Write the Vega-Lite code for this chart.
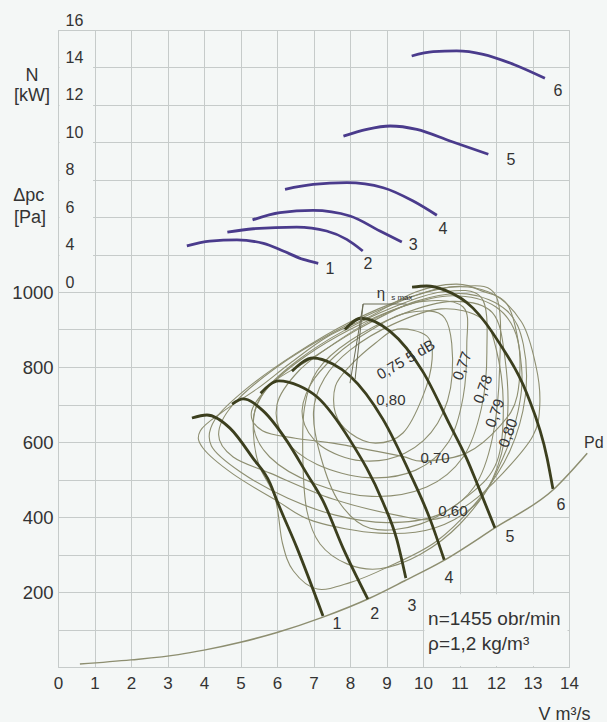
{
  "$schema": "https://vega.github.io/schema/vega-lite/v6.json",
  "background": "#f4f7f6",
  "padding": {"left": 11, "top": 11, "right": 4, "bottom": 4},
  "spacing": 0,
  "bounds": "flush",
  "config": {
    "font": "Liberation Sans",
    "view": {"stroke": "#c6cbca", "fill": "#f4f7f6"},
    "axis": {"gridColor": "#c6cbca", "gridWidth": 1, "gridOpacity": 1, "domain": false, "ticks": false, "tickSize": 0, "labelColor": "#333333", "labelFont": "Liberation Sans", "titleColor": "#333333", "titleFont": "Liberation Sans"},
    "text": {"font": "Liberation Sans", "fill": "#333333"}
  },
  "datasets": {
    "power": [
      {"c": 1, "V": 3.53, "N": 4.46}, {"c": 1, "V": 4.16, "N": 4.72}, {"c": 1, "V": 4.9, "N": 4.78}, {"c": 1, "V": 5.63, "N": 4.6}, {"c": 1, "V": 6.17, "N": 4.19}, {"c": 1, "V": 6.72, "N": 3.74}, {"c": 1, "V": 7.13, "N": 3.53},
      {"c": 2, "V": 4.64, "N": 5.2}, {"c": 2, "V": 5.35, "N": 5.38}, {"c": 2, "V": 6.54, "N": 5.47}, {"c": 2, "V": 7.36, "N": 5.26}, {"c": 2, "V": 7.91, "N": 4.81}, {"c": 2, "V": 8.35, "N": 4.19},
      {"c": 3, "V": 5.33, "N": 5.85}, {"c": 3, "V": 6.08, "N": 6.24}, {"c": 3, "V": 6.99, "N": 6.36}, {"c": 3, "V": 8.0, "N": 6.06}, {"c": 3, "V": 8.82, "N": 5.26}, {"c": 3, "V": 9.42, "N": 4.67},
      {"c": 4, "V": 6.22, "N": 7.49}, {"c": 4, "V": 6.99, "N": 7.75}, {"c": 4, "V": 7.91, "N": 7.84}, {"c": 4, "V": 8.91, "N": 7.57}, {"c": 4, "V": 9.73, "N": 6.86}, {"c": 4, "V": 10.38, "N": 6.1},
      {"c": 5, "V": 7.82, "N": 10.33}, {"c": 5, "V": 8.46, "N": 10.69}, {"c": 5, "V": 9.1, "N": 10.87}, {"c": 5, "V": 9.83, "N": 10.69}, {"c": 5, "V": 10.74, "N": 10.07}, {"c": 5, "V": 11.79, "N": 9.36},
      {"c": 6, "V": 9.69, "N": 14.61}, {"c": 6, "V": 10.28, "N": 14.84}, {"c": 6, "V": 10.92, "N": 14.88}, {"c": 6, "V": 11.65, "N": 14.7}, {"c": 6, "V": 12.47, "N": 14.17}, {"c": 6, "V": 13.34, "N": 13.42}
    ],
    "powerLab": [
      {"t": "1", "V": 7.45, "N": 3.23}, {"t": "2", "V": 8.49, "N": 3.49}, {"t": "3", "V": 9.73, "N": 4.51},
      {"t": "4", "V": 10.55, "N": 5.36}, {"t": "5", "V": 12.41, "N": 9.05}, {"t": "6", "V": 13.7, "N": 12.74}
    ],
    "upperTitles": [
      {"t": "N", "V": -0.71, "N": 13.55}, {"t": "[kW]", "V": -0.71, "N": 12.47},
      {"t": "Δpc", "V": -0.8, "N": 7.13}, {"t": "[Pa]", "V": -0.77, "N": 5.95}
    ],
    "pres": [
      {"c": 1, "V": 3.67, "P": 664}, {"c": 1, "V": 4.08, "P": 672}, {"c": 1, "V": 4.71, "P": 637}, {"c": 1, "V": 5.34, "P": 557}, {"c": 1, "V": 5.81, "P": 490}, {"c": 1, "V": 6.0, "P": 443}, {"c": 1, "V": 6.55, "P": 317}, {"c": 1, "V": 7.26, "P": 136},
      {"c": 2, "V": 4.77, "P": 701}, {"c": 2, "V": 5.07, "P": 715}, {"c": 2, "V": 5.62, "P": 683}, {"c": 2, "V": 6.27, "P": 603}, {"c": 2, "V": 6.82, "P": 515}, {"c": 2, "V": 7.26, "P": 443}, {"c": 2, "V": 7.81, "P": 317}, {"c": 2, "V": 8.49, "P": 181},
      {"c": 3, "V": 5.55, "P": 730}, {"c": 3, "V": 6.05, "P": 763}, {"c": 3, "V": 6.6, "P": 750}, {"c": 3, "V": 7.1, "P": 720}, {"c": 3, "V": 8.0, "P": 605}, {"c": 3, "V": 8.9, "P": 440}, {"c": 3, "V": 9.28, "P": 341}, {"c": 3, "V": 9.53, "P": 237},
      {"c": 4, "V": 6.41, "P": 789}, {"c": 4, "V": 6.99, "P": 824}, {"c": 4, "V": 7.53, "P": 808}, {"c": 4, "V": 8.0, "P": 776}, {"c": 4, "V": 8.9, "P": 661}, {"c": 4, "V": 9.64, "P": 517}, {"c": 4, "V": 10.19, "P": 395}, {"c": 4, "V": 10.58, "P": 286},
      {"c": 5, "V": 7.86, "P": 900}, {"c": 5, "V": 8.3, "P": 930}, {"c": 5, "V": 9.1, "P": 895}, {"c": 5, "V": 10.0, "P": 787}, {"c": 5, "V": 10.74, "P": 645}, {"c": 5, "V": 11.2, "P": 555}, {"c": 5, "V": 11.5, "P": 485}, {"c": 5, "V": 11.97, "P": 371},
      {"c": 6, "V": 9.7, "P": 1013}, {"c": 6, "V": 10.1, "P": 1016}, {"c": 6, "V": 10.6, "P": 1005}, {"c": 6, "V": 11.37, "P": 957}, {"c": 6, "V": 12.11, "P": 861}, {"c": 6, "V": 12.85, "P": 728}, {"c": 6, "V": 13.4, "P": 557}, {"c": 6, "V": 13.56, "P": 475}
    ],
    "presLab": [
      {"t": "1", "V": 7.64, "P": 115}, {"t": "2", "V": 8.68, "P": 141}, {"t": "3", "V": 9.7, "P": 163},
      {"t": "4", "V": 10.71, "P": 237}, {"t": "5", "V": 12.38, "P": 347}, {"t": "6", "V": 13.78, "P": 432}, {"t": "Pd", "V": 14.68, "P": 597}
    ],
    "pd": [
      {"V": 0.6, "P": 8}, {"V": 2.0, "P": 19}, {"V": 3.3, "P": 33}, {"V": 4.0, "P": 45}, {"V": 5.0, "P": 66}, {"V": 6.0, "P": 92}, {"V": 7.26, "P": 133},
      {"V": 8.55, "P": 184}, {"V": 9.5, "P": 230}, {"V": 10.55, "P": 283}, {"V": 11.97, "P": 371}, {"V": 13.56, "P": 472}, {"V": 14.5, "P": 570}
    ],
    "eta": [
      {"l": 1, "i": 0, "V": 10.1, "P": 883}, {"l": 1, "i": 1, "V": 9.3, "P": 901}, {"l": 1, "i": 2, "V": 8.7, "P": 864}, {"l": 1, "i": 3, "V": 8.0, "P": 803}, {"l": 1, "i": 4, "V": 7.6, "P": 749}, {"l": 1, "i": 5, "V": 7.6, "P": 677}, {"l": 1, "i": 6, "V": 8.0, "P": 624}, {"l": 1, "i": 7, "V": 8.7, "P": 597}, {"l": 1, "i": 8, "V": 9.45, "P": 624}, {"l": 1, "i": 9, "V": 10.0, "P": 723}, {"l": 1, "i": 10, "V": 10.25, "P": 821},
      {"l": 2, "i": 0, "V": 10.6, "P": 930}, {"l": 2, "i": 1, "V": 9.6, "P": 945}, {"l": 2, "i": 2, "V": 8.6, "P": 900}, {"l": 2, "i": 3, "V": 7.6, "P": 830}, {"l": 2, "i": 4, "V": 6.9, "P": 750}, {"l": 2, "i": 5, "V": 6.7, "P": 665}, {"l": 2, "i": 6, "V": 7.2, "P": 590}, {"l": 2, "i": 7, "V": 8.3, "P": 550}, {"l": 2, "i": 8, "V": 9.5, "P": 570}, {"l": 2, "i": 9, "V": 10.4, "P": 650}, {"l": 2, "i": 10, "V": 10.8, "P": 780},
      {"l": 3, "i": 0, "V": 11.1, "P": 960}, {"l": 3, "i": 1, "V": 10.0, "P": 975}, {"l": 3, "i": 2, "V": 8.8, "P": 935}, {"l": 3, "i": 3, "V": 7.6, "P": 865}, {"l": 3, "i": 4, "V": 6.6, "P": 790}, {"l": 3, "i": 5, "V": 6.0, "P": 700}, {"l": 3, "i": 6, "V": 6.2, "P": 610}, {"l": 3, "i": 7, "V": 7.1, "P": 540}, {"l": 3, "i": 8, "V": 8.5, "P": 505}, {"l": 3, "i": 9, "V": 9.8, "P": 525}, {"l": 3, "i": 10, "V": 10.7, "P": 600}, {"l": 3, "i": 11, "V": 11.1, "P": 720}, {"l": 3, "i": 12, "V": 11.2, "P": 860},
      {"l": 4, "i": 0, "V": 11.6, "P": 985}, {"l": 4, "i": 1, "V": 10.5, "P": 1000}, {"l": 4, "i": 2, "V": 9.2, "P": 960}, {"l": 4, "i": 3, "V": 7.8, "P": 895}, {"l": 4, "i": 4, "V": 6.6, "P": 820}, {"l": 4, "i": 5, "V": 5.7, "P": 740}, {"l": 4, "i": 6, "V": 5.35, "P": 650}, {"l": 4, "i": 7, "V": 5.8, "P": 560}, {"l": 4, "i": 8, "V": 7.0, "P": 490}, {"l": 4, "i": 9, "V": 8.6, "P": 455}, {"l": 4, "i": 10, "V": 10.1, "P": 480}, {"l": 4, "i": 11, "V": 11.1, "P": 560}, {"l": 4, "i": 12, "V": 11.6, "P": 690}, {"l": 4, "i": 13, "V": 11.75, "P": 840},
      {"l": 5, "i": 0, "V": 12.0, "P": 990}, {"l": 5, "i": 1, "V": 11.0, "P": 1015}, {"l": 5, "i": 2, "V": 9.6, "P": 985}, {"l": 5, "i": 3, "V": 8.0, "P": 920}, {"l": 5, "i": 4, "V": 6.5, "P": 835}, {"l": 5, "i": 5, "V": 5.2, "P": 745}, {"l": 5, "i": 6, "V": 4.3, "P": 660}, {"l": 5, "i": 7, "V": 4.2, "P": 590}, {"l": 5, "i": 8, "V": 5.0, "P": 520}, {"l": 5, "i": 9, "V": 6.3, "P": 450}, {"l": 5, "i": 10, "V": 7.6, "P": 405}, {"l": 5, "i": 11, "V": 9.0, "P": 385}, {"l": 5, "i": 12, "V": 10.4, "P": 405}, {"l": 5, "i": 13, "V": 11.4, "P": 480}, {"l": 5, "i": 14, "V": 11.9, "P": 610}, {"l": 5, "i": 15, "V": 12.1, "P": 800},
      {"l": 6, "i": 0, "V": 12.35, "P": 960}, {"l": 6, "i": 1, "V": 11.6, "P": 1003}, {"l": 6, "i": 2, "V": 10.9, "P": 1021}, {"l": 6, "i": 3, "V": 9.8, "P": 1000}, {"l": 6, "i": 4, "V": 8.55, "P": 935}, {"l": 6, "i": 5, "V": 7.37, "P": 880}, {"l": 6, "i": 6, "V": 6.36, "P": 810}, {"l": 6, "i": 7, "V": 5.5, "P": 745}, {"l": 6, "i": 8, "V": 4.5, "P": 680}, {"l": 6, "i": 9, "V": 3.9, "P": 630}, {"l": 6, "i": 10, "V": 3.97, "P": 584}, {"l": 6, "i": 11, "V": 4.79, "P": 515}, {"l": 6, "i": 12, "V": 6.0, "P": 443}, {"l": 6, "i": 13, "V": 7.0, "P": 389}, {"l": 6, "i": 14, "V": 8.8, "P": 357}, {"l": 6, "i": 15, "V": 10.3, "P": 370}, {"l": 6, "i": 16, "V": 11.5, "P": 440}, {"l": 6, "i": 17, "V": 12.2, "P": 560}, {"l": 6, "i": 18, "V": 12.6, "P": 680}, {"l": 6, "i": 19, "V": 12.7, "P": 800},
      {"l": 7, "i": 0, "V": 12.6, "P": 870}, {"l": 7, "i": 1, "V": 12.0, "P": 960}, {"l": 7, "i": 2, "V": 10.8, "P": 990}, {"l": 7, "i": 3, "V": 9.4, "P": 960}, {"l": 7, "i": 4, "V": 8.0, "P": 900}, {"l": 7, "i": 5, "V": 6.8, "P": 830}, {"l": 7, "i": 6, "V": 5.8, "P": 750}, {"l": 7, "i": 7, "V": 5.3, "P": 680}, {"l": 7, "i": 8, "V": 5.6, "P": 630}, {"l": 7, "i": 9, "V": 6.5, "P": 610}, {"l": 7, "i": 10, "V": 7.53, "P": 597}, {"l": 7, "i": 11, "V": 9.37, "P": 563}, {"l": 7, "i": 12, "V": 10.0, "P": 549}, {"l": 7, "i": 13, "V": 11.2, "P": 571}, {"l": 7, "i": 14, "V": 12.11, "P": 643}, {"l": 7, "i": 15, "V": 12.58, "P": 723},
      {"l": 8, "i": 0, "V": 13.1, "P": 800}, {"l": 8, "i": 1, "V": 12.7, "P": 920}, {"l": 8, "i": 2, "V": 11.8, "P": 1000}, {"l": 8, "i": 3, "V": 10.5, "P": 1010}, {"l": 8, "i": 4, "V": 9.0, "P": 960}, {"l": 8, "i": 5, "V": 7.5, "P": 890}, {"l": 8, "i": 6, "V": 6.0, "P": 800}, {"l": 8, "i": 7, "V": 4.8, "P": 700}, {"l": 8, "i": 8, "V": 4.4, "P": 620}, {"l": 8, "i": 9, "V": 4.8, "P": 560}, {"l": 8, "i": 10, "V": 5.81, "P": 517}, {"l": 8, "i": 11, "V": 7.53, "P": 448}, {"l": 8, "i": 12, "V": 9.37, "P": 403}, {"l": 8, "i": 13, "V": 10.38, "P": 395}, {"l": 8, "i": 14, "V": 11.29, "P": 437}, {"l": 8, "i": 15, "V": 12.19, "P": 517}, {"l": 8, "i": 16, "V": 13.01, "P": 616}, {"l": 8, "i": 17, "V": 13.2, "P": 700},
      {"l": 9, "i": 0, "V": 12.3, "P": 950}, {"l": 9, "i": 1, "V": 11.2, "P": 995}, {"l": 9, "i": 2, "V": 9.8, "P": 975}, {"l": 9, "i": 3, "V": 8.3, "P": 905}, {"l": 9, "i": 4, "V": 6.9, "P": 820}, {"l": 9, "i": 5, "V": 5.9, "P": 760}, {"l": 9, "i": 6, "V": 5.45, "P": 700}, {"l": 9, "i": 7, "V": 5.35, "P": 630}, {"l": 9, "i": 8, "V": 5.5, "P": 540}, {"l": 9, "i": 9, "V": 5.95, "P": 450}, {"l": 9, "i": 10, "V": 6.15, "P": 330}, {"l": 9, "i": 11, "V": 6.45, "P": 256}, {"l": 9, "i": 12, "V": 7.1, "P": 208}, {"l": 9, "i": 13, "V": 8.0, "P": 225}, {"l": 9, "i": 14, "V": 9.0, "P": 265}, {"l": 9, "i": 15, "V": 10.38, "P": 336}, {"l": 9, "i": 16, "V": 11.56, "P": 451}, {"l": 9, "i": 17, "V": 12.38, "P": 576}, {"l": 9, "i": 18, "V": 12.8, "P": 720}, {"l": 9, "i": 19, "V": 12.75, "P": 860},
      {"l": 10, "i": 0, "V": 11.9, "P": 945}, {"l": 10, "i": 1, "V": 10.8, "P": 975}, {"l": 10, "i": 2, "V": 9.4, "P": 940}, {"l": 10, "i": 3, "V": 8.0, "P": 870}, {"l": 10, "i": 4, "V": 7.1, "P": 790}, {"l": 10, "i": 5, "V": 6.75, "P": 690}, {"l": 10, "i": 6, "V": 6.71, "P": 549}, {"l": 10, "i": 7, "V": 6.82, "P": 416}, {"l": 10, "i": 8, "V": 7.18, "P": 328}, {"l": 10, "i": 9, "V": 7.92, "P": 275}, {"l": 10, "i": 10, "V": 8.82, "P": 262}, {"l": 10, "i": 11, "V": 9.92, "P": 300}, {"l": 10, "i": 12, "V": 11.0, "P": 380}, {"l": 10, "i": 13, "V": 11.9, "P": 500}, {"l": 10, "i": 14, "V": 12.3, "P": 650}, {"l": 10, "i": 15, "V": 12.25, "P": 820},
      {"l": 11, "i": 0, "V": 11.6, "P": 930}, {"l": 11, "i": 1, "V": 10.5, "P": 955}, {"l": 11, "i": 2, "V": 9.2, "P": 915}, {"l": 11, "i": 3, "V": 8.0, "P": 845}, {"l": 11, "i": 4, "V": 7.3, "P": 770}, {"l": 11, "i": 5, "V": 7.0, "P": 680}, {"l": 11, "i": 6, "V": 7.2, "P": 560}, {"l": 11, "i": 7, "V": 7.7, "P": 440}, {"l": 11, "i": 8, "V": 8.55, "P": 370}, {"l": 11, "i": 9, "V": 9.92, "P": 381}, {"l": 11, "i": 10, "V": 11.29, "P": 461}, {"l": 11, "i": 11, "V": 12.03, "P": 549}, {"l": 11, "i": 12, "V": 12.2, "P": 700}, {"l": 11, "i": 13, "V": 12.0, "P": 850}
    ],
    "bracket": [
      {"s": "a", "i": 0, "V": 9.55, "P": 968}, {"s": "a", "i": 1, "V": 8.36, "P": 968}, {"s": "a", "i": 2, "V": 8.0, "P": 757},
      {"s": "b", "i": 0, "V": 8.36, "P": 968}, {"s": "b", "i": 1, "V": 8.14, "P": 768}
    ],
    "etaH": [
      {"t": "0,80", "V": 9.12, "P": 712}, {"t": "0,70", "V": 10.33, "P": 557}, {"t": "0,60", "V": 10.82, "P": 416}
    ],
    "etaR": [
      {"t": "0,77", "V": 11.07, "P": 803}, {"t": "0,78", "V": 11.64, "P": 741}, {"t": "0,79", "V": 11.97, "P": 677}, {"t": "0,80", "V": 12.33, "P": 624}
    ],
    "dbLab": [{"t": "0,75 5 dB", "V": 9.53, "P": 820}],
    "note": [{"t": "n=1455 obr/min", "V": 10.14, "P": 128}, {"t": "ρ=1,2 kg/m³", "V": 10.14, "P": 61}]
  },
  "vconcat": [
    {
      "width": 511,
      "height": 262,
      "resolve": {"axis": {"y": "independent"}},
      "encoding": {
        "x": {"field": "V", "type": "quantitative", "scale": {"domain": [0, 14], "nice": false, "zero": false},
              "axis": {"values": [0, 1, 2, 3, 4, 5, 6, 7, 8, 9, 10, 11, 12, 13, 14], "labels": false, "title": null, "grid": true}}
      },
      "layer": [
        {
          "data": {"values": [{"V": 0.04, "V2": 0.96, "N": 2.07, "N2": 15.93}]},
          "mark": {"type": "rect", "fill": "#f4f7f6"},
          "encoding": {
            "x2": {"field": "V2"},
            "y": {"field": "N", "type": "quantitative", "scale": {"domain": [2, 16], "nice": false, "zero": false},
                  "axis": {"orient": "left", "values": [2, 4, 6, 8, 10, 12, 14, 16], "grid": false, "labelExpr": "datum.value == 2 ? '0' : datum.label", "labelAlign": "left", "labelPadding": -7, "labelOffset": -10, "labelFontSize": 16, "labelOverlap": false, "title": null, "zindex": 1}},
            "y2": {"field": "N2"}
          }
        },
        {
          "data": {"name": "power"},
          "mark": {"type": "line", "stroke": "#4a3b8c", "strokeWidth": 2.8, "interpolate": "monotone"},
          "encoding": {
            "y": {"field": "N", "type": "quantitative", "axis": {"orient": "right", "values": [2, 4, 6, 8, 10, 12, 14, 16], "grid": true, "labels": false, "title": null}},
            "detail": {"field": "c"}
          }
        },
        {
          "data": {"name": "powerLab"},
          "mark": {"type": "text", "fontSize": 16},
          "encoding": {
            "y": {"field": "N", "type": "quantitative", "axis": null},
            "text": {"field": "t"}
          }
        },
        {
          "data": {"name": "upperTitles"},
          "mark": {"type": "text", "fontSize": 18},
          "encoding": {
            "y": {"field": "N", "type": "quantitative", "axis": null},
            "text": {"field": "t"}
          }
        }
      ]
    },
    {
      "width": 511,
      "height": 375,
      "encoding": {
        "x": {"field": "V", "type": "quantitative", "scale": {"domain": [0, 14], "nice": false, "zero": false},
              "axis": {"values": [0, 1, 2, 3, 4, 5, 6, 7, 8, 9, 10, 11, 12, 13, 14], "grid": true, "labelFontSize": 17, "labelPadding": 8, "labelFlush": false, "labelOverlap": false,
                       "title": "V m³/s", "titleFontSize": 18, "titleFontWeight": "normal", "titleAlign": "right", "titleX": 532, "titlePadding": 14}},
        "y": {"field": "P", "type": "quantitative", "scale": {"domain": [0, 1000], "nice": false, "zero": false},
              "axis": {"values": [0, 100, 200, 300, 400, 500, 600, 700, 800, 900, 1000], "grid": true, "labelExpr": "datum.value % 200 == 0 && datum.value > 0 ? datum.label : ''", "format": "d", "labelFontSize": 18.5, "labelPadding": 5, "labelOverlap": false, "title": null}}
      },
      "layer": [
        {
          "data": {"values": [{"V": 10.04, "V2": 13.96, "P": 3, "P2": 194}]},
          "mark": {"type": "rect", "fill": "#f4f7f6"},
          "encoding": {
            "x2": {"field": "V2"},
            "y2": {"field": "P2"}
          }
        },
        {
          "data": {"name": "eta"},
          "mark": {"type": "line", "stroke": "#8d8e70", "strokeWidth": 1.1, "interpolate": "cardinal-closed"},
          "encoding": {
            "detail": {"field": "l"},
            "order": {"field": "i"}
          }
        },
        {
          "data": {"name": "pd"},
          "mark": {"type": "line", "stroke": "#8d8e70", "strokeWidth": 1.5, "interpolate": "monotone"}
        },
        {
          "data": {"name": "pres"},
          "mark": {"type": "line", "stroke": "#3c3f1e", "strokeWidth": 2.8, "interpolate": "monotone"},
          "encoding": {
            "detail": {"field": "c"}
          }
        },
        {
          "data": {"name": "bracket"},
          "mark": {"type": "line", "stroke": "#6b6c55", "strokeWidth": 1},
          "encoding": {
            "detail": {"field": "s"},
            "order": {"field": "i"}
          }
        },
        {
          "data": {"name": "presLab"},
          "mark": {"type": "text", "fontSize": 16},
          "encoding": {"text": {"field": "t"}}
        },
        {
          "data": {"name": "etaH"},
          "mark": {"type": "text", "fontSize": 15},
          "encoding": {"text": {"field": "t"}}
        },
        {
          "data": {"name": "etaR"},
          "mark": {"type": "text", "fontSize": 15, "angle": -70},
          "encoding": {"text": {"field": "t"}}
        },
        {
          "data": {"name": "dbLab"},
          "mark": {"type": "text", "fontSize": 15, "angle": -30},
          "encoding": {"text": {"field": "t"}}
        },
        {
          "data": {"values": [{"t": "η", "V": 8.85, "P": 997}]},
          "mark": {"type": "text", "fontSize": 15},
          "encoding": {"text": {"field": "t"}}
        },
        {
          "data": {"values": [{"t": "s max", "V": 9.42, "P": 983}]},
          "mark": {"type": "text", "fontSize": 8},
          "encoding": {"text": {"field": "t"}}
        },
        {
          "data": {"name": "note"},
          "mark": {"type": "text", "fontSize": 19, "align": "left"},
          "encoding": {"text": {"field": "t"}}
        }
      ]
    }
  ]
}
